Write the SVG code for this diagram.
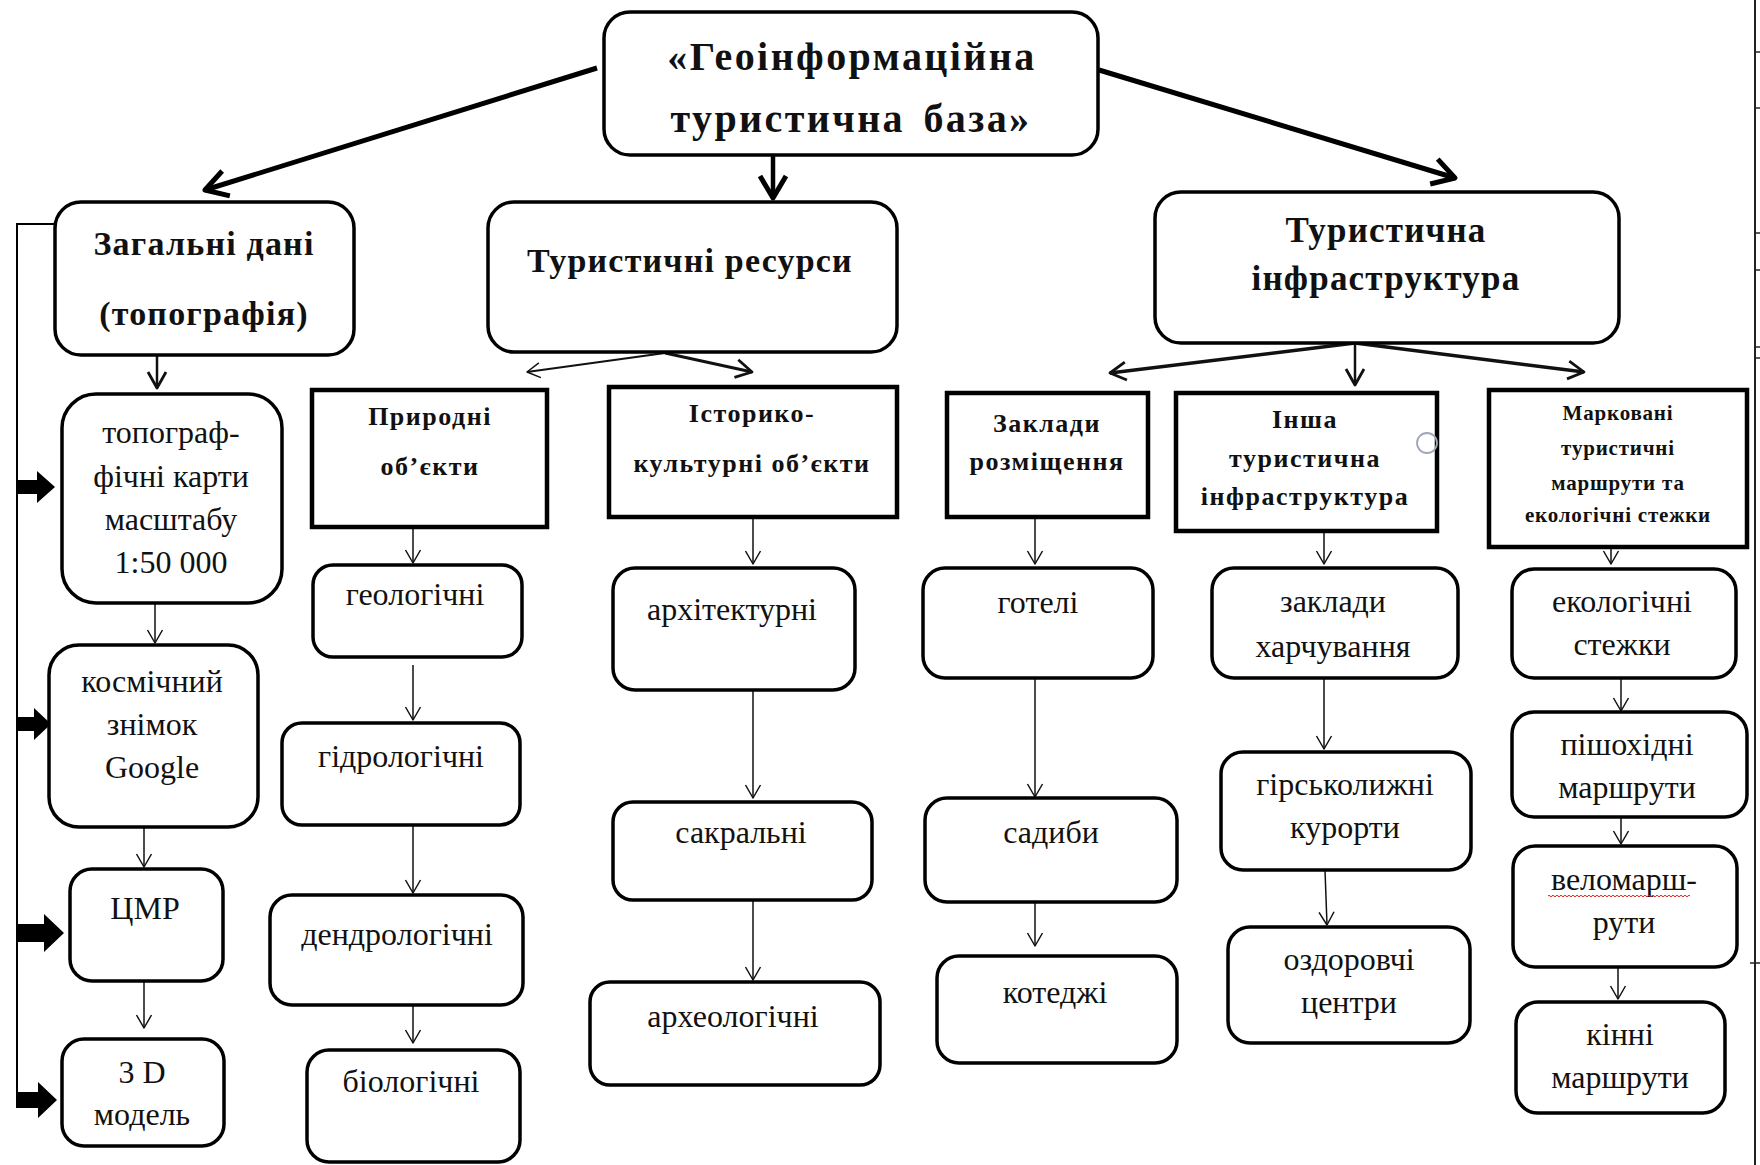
<svg xmlns="http://www.w3.org/2000/svg" width="1760" height="1165" viewBox="0 0 1760 1165">
<style>
text{font-family:"Liberation Serif","Times New Roman",serif;fill:#111;text-anchor:middle}
.t{font-size:40px;font-weight:bold;letter-spacing:2.4px;word-spacing:6px}
.h1{font-size:34px;font-weight:bold;letter-spacing:1.2px}
.h2{font-size:26px;font-weight:bold;letter-spacing:1.5px}
.h3{font-size:21px;font-weight:bold;letter-spacing:0.8px}
.r{font-size:32px}
.rb{fill:#fff;stroke:#000;stroke-width:3.5}
.sq{fill:#fff;stroke:#000;stroke-width:4.5}
.c1{fill:none;stroke:#111;stroke-width:1.5;marker-end:url(#vThin)}
.c2{fill:none;stroke:#111;stroke-width:2.5;marker-end:url(#vMid)}
.c3{fill:none;stroke:#000;stroke-width:5;marker-end:url(#vThick)}
.blk{fill:#000}
</style>
<defs>
<marker id="vThin" viewBox="-15 -10 17 20" refX="0" refY="0" markerWidth="17" markerHeight="20" markerUnits="userSpaceOnUse" orient="auto">
<path d="M-13,-7.5 L0,0 L-13,7.5" fill="none" stroke="#111" stroke-width="1.5" stroke-linejoin="round"/>
</marker>
<marker id="vMid" viewBox="-20 -12 22 24" refX="0" refY="0" markerWidth="22" markerHeight="24" markerUnits="userSpaceOnUse" orient="auto">
<path d="M-16,-9 L0,0 L-16,9" fill="none" stroke="#111" stroke-width="2.8" stroke-linejoin="round"/>
</marker>
<marker id="vThick" viewBox="-28 -18 31 36" refX="0" refY="0" markerWidth="31" markerHeight="36" markerUnits="userSpaceOnUse" orient="auto">
<path d="M-22,-13 L0,0 L-22,13" fill="none" stroke="#000" stroke-width="5" stroke-linejoin="round"/>
</marker>
</defs>
<rect width="1760" height="1165" fill="#fff"/>

<g id="connectors">
<line class="c3" x1="597" y1="68" x2="205" y2="190"/>
<line class="c3" x1="773" y1="155" x2="773" y2="198" style="stroke-width:4.5"/>
<line class="c3" x1="1099" y1="70" x2="1455" y2="178"/>
<line class="c1" x1="665" y1="353" x2="527" y2="372" style="stroke-width:2"/>
<line class="c2" x1="665" y1="353" x2="752" y2="372" style="stroke-width:3"/>
<line class="c2" x1="1355" y1="343" x2="1110" y2="373" style="stroke-width:3.5"/>
<line class="c2" x1="1355" y1="343" x2="1355" y2="385"/>
<line class="c2" x1="1355" y1="343" x2="1584" y2="372" style="stroke-width:3.5"/>
<line class="c2" x1="157" y1="356" x2="157" y2="388"/>
<line class="c1" x1="155" y1="603" x2="155" y2="643"/>
<line class="c1" x1="144" y1="827" x2="144" y2="867"/>
<line class="c1" x1="144" y1="982" x2="144" y2="1028"/>
<line class="c1" x1="413" y1="528" x2="413" y2="563"/>
<line class="c1" x1="413" y1="665" x2="413" y2="720"/>
<line class="c1" x1="413" y1="826" x2="413" y2="893"/>
<line class="c1" x1="413" y1="1006" x2="413" y2="1043"/>
<line class="c1" x1="753" y1="518" x2="753" y2="564"/>
<line class="c1" x1="753" y1="690" x2="753" y2="798"/>
<line class="c1" x1="753" y1="900" x2="753" y2="980"/>
<line class="c1" x1="1035" y1="518" x2="1035" y2="564"/>
<line class="c1" x1="1035" y1="678" x2="1035" y2="797"/>
<line class="c1" x1="1035" y1="902" x2="1035" y2="946"/>
<line class="c1" x1="1324" y1="532" x2="1324" y2="564"/>
<line class="c1" x1="1324" y1="678" x2="1324" y2="749"/>
<line class="c1" x1="1325" y1="870" x2="1327" y2="925"/>
<line class="c1" x1="1611" y1="548" x2="1611" y2="564"/>
<line class="c1" x1="1621" y1="679" x2="1621" y2="711"/>
<line class="c1" x1="1621" y1="817" x2="1621" y2="844"/>
<line class="c1" x1="1618" y1="967" x2="1618" y2="999"/>
<polyline points="54,224 17,224 17,1108" fill="none" stroke="#000" stroke-width="2"/>
<path class="blk" d="M17,480 H37 V471 L55,487 L37,503 V494 H17 Z"/>
<path class="blk" d="M17,717 H34 V708 L51,724 L34,740 V731 H17 Z"/>
<path class="blk" d="M17,924 H44 V914 L64,933 L44,952 V942 H17 Z"/>
<path class="blk" d="M17,1092 H38 V1082 L57,1100 L38,1118 V1108 H17 Z"/>
</g>

<g id="n-main">
<rect class="rb" x="604" y="12" width="494" height="143" rx="26"/>
<text class="t" x="852" y="70">«Геоінформаційна</text>
<text class="t" x="851" y="132">туристична база»</text>
</g>

<g id="n-zagalni">
<rect class="rb" x="55" y="202" width="299" height="153" rx="26"/>
<text class="h1" x="204" y="255">Загальні дані</text>
<text class="h1" x="204" y="325">(топографія)</text>
</g>

<g id="n-resursy">
<rect class="rb" x="488" y="202" width="409" height="150" rx="26"/>
<text class="h1" x="690" y="272">Туристичні ресурси</text>
</g>

<g id="n-infra">
<rect class="rb" x="1155" y="192" width="464" height="151" rx="26"/>
<text class="h1" x="1386" y="242" style="font-size:35px">Туристична</text>
<text class="h1" x="1386" y="290" style="font-size:35px">інфраструктура</text>
</g>

<g id="n-topo">
<rect class="rb" x="62" y="394" width="220" height="209" rx="34"/>
<text class="r" x="171" y="443">топограф-</text>
<text class="r" x="171" y="487">фічні карти</text>
<text class="r" x="171" y="530">масштабу</text>
<text class="r" x="171" y="573">1:50 000</text>
</g>

<g id="n-kosmos">
<rect class="rb" x="49" y="645" width="209" height="182" rx="30"/>
<text class="r" x="152" y="692">космічний</text>
<text class="r" x="152" y="735">знімок</text>
<text class="r" x="152" y="778">Google</text>
</g>

<g id="n-cmr">
<rect class="rb" x="70" y="869" width="153" height="112" rx="22"/>
<text class="r" x="145" y="919">ЦМР</text>
</g>

<g id="n-3d">
<rect class="rb" x="62" y="1039" width="162" height="107" rx="22"/>
<text class="r" x="142" y="1083">3 D</text>
<text class="r" x="142" y="1125">модель</text>
</g>

<g id="n-pryrodni">
<rect class="sq" x="312" y="390" width="235" height="137"/>
<text class="h2" x="430" y="425">Природні</text>
<text class="h2" x="430" y="475">об’єкти</text>
</g>

<g id="n-istoryko">
<rect class="sq" x="609" y="387" width="288" height="130"/>
<text class="h2" x="752" y="422">Історико-</text>
<text class="h2" x="752" y="472">культурні об’єкти</text>
</g>

<g id="n-zaklady">
<rect class="sq" x="947" y="393" width="201" height="124"/>
<text class="h2" x="1047" y="432">Заклади</text>
<text class="h2" x="1047" y="470">розміщення</text>
</g>

<g id="n-insha">
<rect class="sq" x="1176" y="393" width="261" height="138"/>
<text class="h2" x="1305" y="428">Інша</text>
<text class="h2" x="1305" y="467">туристична</text>
<text class="h2" x="1305" y="505">інфраструктура</text>
<circle cx="1427" cy="443" r="10" fill="none" stroke="#a0a6b8" stroke-width="1.8"/>
</g>

<g id="n-markovani">
<rect class="sq" x="1489" y="390" width="258" height="157"/>
<text class="h3" x="1618" y="420">Марковані</text>
<text class="h3" x="1618" y="455">туристичні</text>
<text class="h3" x="1618" y="490">маршрути та</text>
<text class="h3" x="1618" y="522">екологічні стежки</text>
</g>

<g id="n-geolog">
<rect class="rb" x="313" y="565" width="209" height="92" rx="20"/>
<text class="r" x="415" y="605">геологічні</text>
</g>
<g id="n-gidrolog">
<rect class="rb" x="282" y="723" width="238" height="102" rx="20"/>
<text class="r" x="401" y="767">гідрологічні</text>
</g>
<g id="n-dendrolog">
<rect class="rb" x="270" y="895" width="253" height="110" rx="22"/>
<text class="r" x="397" y="945">дендрологічні</text>
</g>
<g id="n-biolog">
<rect class="rb" x="307" y="1050" width="213" height="112" rx="22"/>
<text class="r" x="411" y="1092">біологічні</text>
</g>

<g id="n-arkhitekt">
<rect class="rb" x="613" y="568" width="242" height="122" rx="22"/>
<text class="r" x="732" y="620">архітектурні</text>
</g>
<g id="n-sakral">
<rect class="rb" x="613" y="802" width="259" height="98" rx="20"/>
<text class="r" x="741" y="843">сакральні</text>
</g>
<g id="n-arkheolog">
<rect class="rb" x="590" y="982" width="290" height="103" rx="20"/>
<text class="r" x="733" y="1027">археологічні</text>
</g>

<g id="n-goteli">
<rect class="rb" x="923" y="568" width="230" height="110" rx="22"/>
<text class="r" x="1038" y="613">готелі</text>
</g>
<g id="n-sadyby">
<rect class="rb" x="925" y="798" width="252" height="104" rx="22"/>
<text class="r" x="1051" y="843">садиби</text>
</g>
<g id="n-kotedzhi">
<rect class="rb" x="937" y="956" width="240" height="107" rx="22"/>
<text class="r" x="1055" y="1003">котеджі</text>
</g>

<g id="n-kharch">
<rect class="rb" x="1212" y="568" width="246" height="110" rx="22"/>
<text class="r" x="1333" y="612">заклади</text>
<text class="r" x="1333" y="657">харчування</text>
</g>
<g id="n-girsk">
<rect class="rb" x="1221" y="752" width="250" height="118" rx="22"/>
<text class="r" x="1345" y="795">гірськолижні</text>
<text class="r" x="1345" y="838">курорти</text>
</g>
<g id="n-ozdor">
<rect class="rb" x="1228" y="927" width="242" height="116" rx="22"/>
<text class="r" x="1349" y="970">оздоровчі</text>
<text class="r" x="1349" y="1013">центри</text>
</g>

<g id="n-ekol">
<rect class="rb" x="1512" y="569" width="224" height="109" rx="22"/>
<text class="r" x="1622" y="612">екологічні</text>
<text class="r" x="1622" y="655">стежки</text>
</g>
<g id="n-pisho">
<rect class="rb" x="1512" y="712" width="235" height="105" rx="22"/>
<text class="r" x="1627" y="755">пішохідні</text>
<text class="r" x="1627" y="798">маршрути</text>
</g>
<g id="n-velo">
<rect class="rb" x="1513" y="846" width="224" height="121" rx="22"/>
<text class="r" x="1624" y="890">веломарш-</text>
<text class="r" x="1624" y="933">рути</text>
<path d="M1548,896 q1,-1.5 2,0 t2,0 t2,0 t2,0 t2,0 t2,0 t2,0 t2,0 t2,0 t2,0 t2,0 t2,0 t2,0 t2,0 t2,0 t2,0 t2,0 t2,0 t2,0 t2,0 t2,0 t2,0 t2,0 t2,0 t2,0 t2,0 t2,0 t2,0 t2,0 t2,0 t2,0 t2,0 t2,0 t2,0 t2,0 t2,0 t2,0 t2,0 t2,0 t2,0 t2,0 t2,0 t2,0 t2,0 t2,0 t2,0 t2,0 t2,0 t2,0 t2,0 t2,0 t2,0 t2,0 t2,0 t2,0 t2,0 t2,0 t2,0 t2,0 t2,0 t2,0 t2,0 t2,0 t2,0 t2,0 t2,0 t2,0 t2,0 t2,0 t2,0 t2,0" fill="none" stroke="#d42020" stroke-width="1"/>
</g>
<g id="n-kinni">
<rect class="rb" x="1516" y="1002" width="209" height="111" rx="22"/>
<text class="r" x="1620" y="1045">кінні</text>
<text class="r" x="1620" y="1088">маршрути</text>
</g>

<g id="edge">
<line x1="1755" y1="0" x2="1755" y2="1165" stroke="#222" stroke-width="2"/>
<path d="M1755,52 H1760 M1755,108 H1760 M1755,233 H1760 M1755,270 H1760 M1755,347 H1760 M1755,358 H1760 M1750,963 H1760" stroke="#222" stroke-width="1.5"/>
</g>
</svg>
